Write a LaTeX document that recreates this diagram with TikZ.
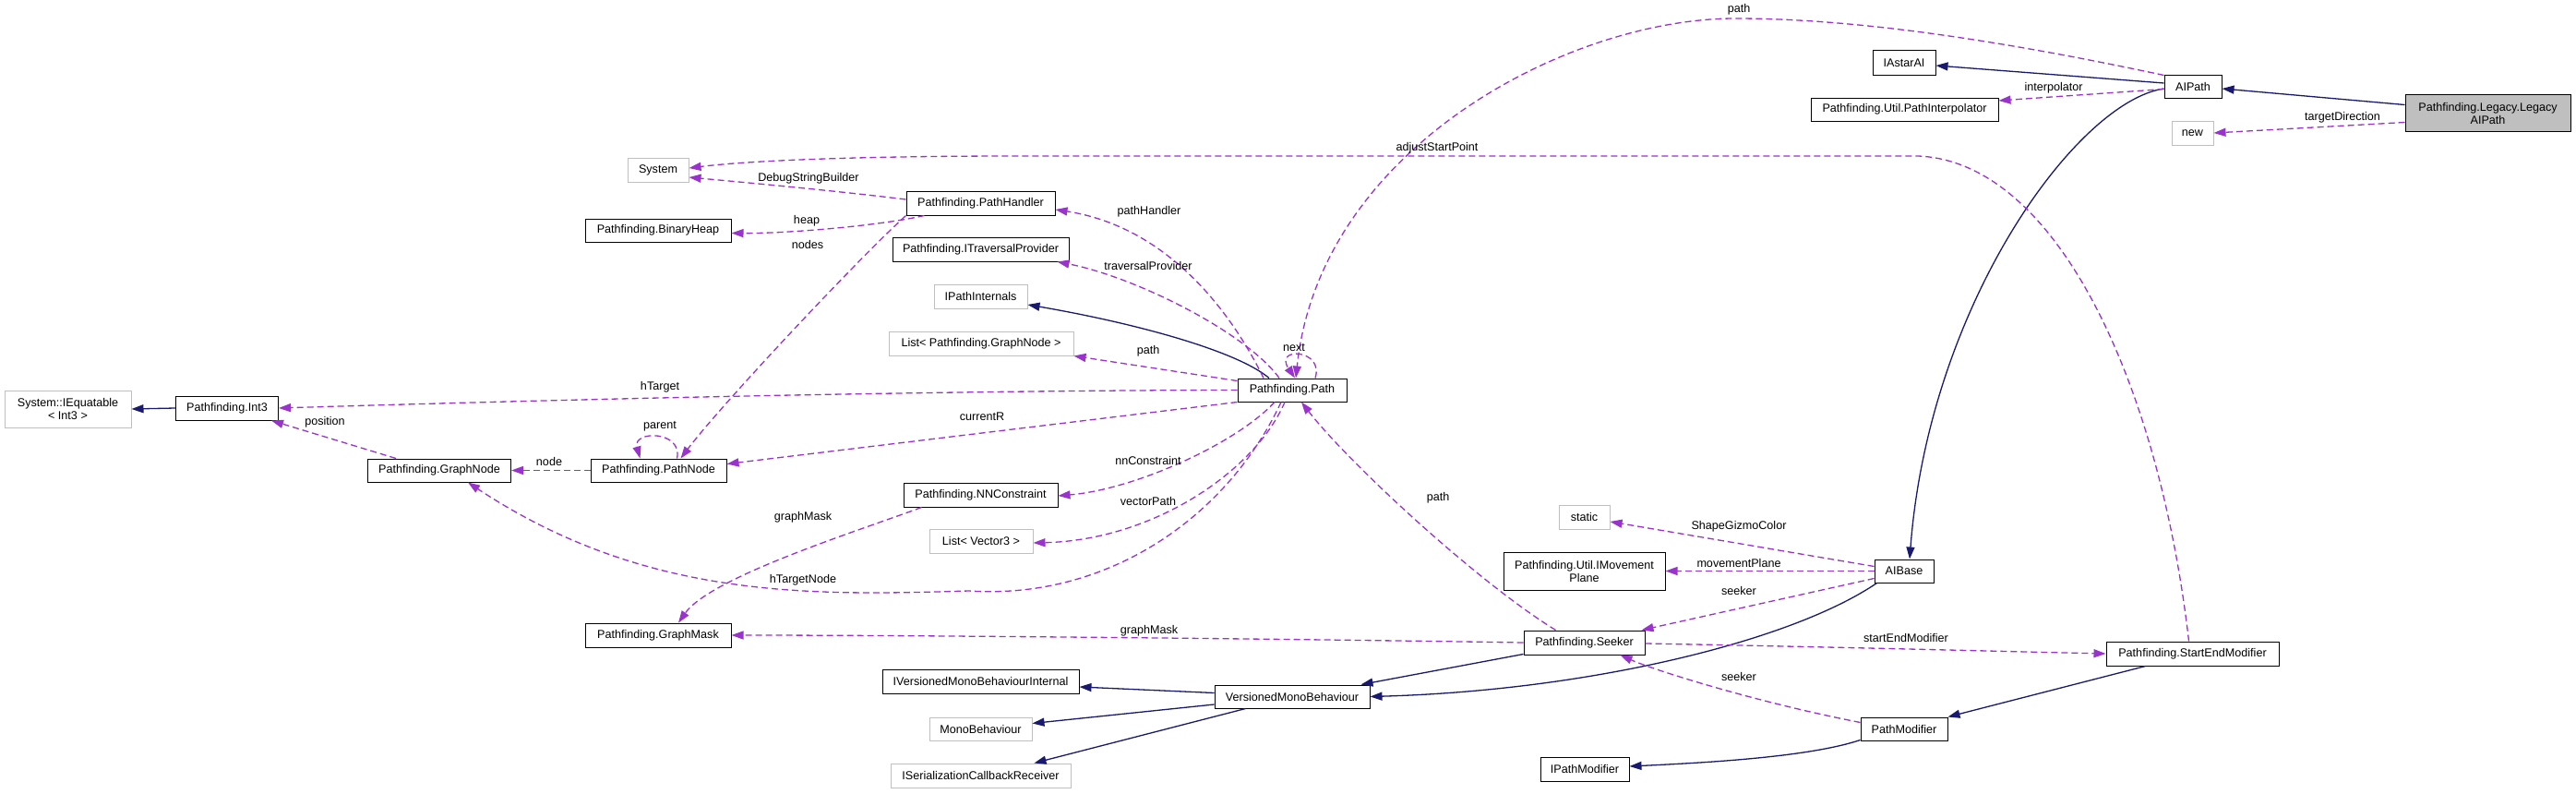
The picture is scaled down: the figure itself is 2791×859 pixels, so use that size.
\documentclass[tikz,border=0pt]{standalone}
\usepackage{fontspec}
\setmainfont{Liberation Sans}
\usetikzlibrary{arrows.meta,calc}
\definecolor{inhc}{HTML}{191970}
\definecolor{usec}{HTML}{9A32CD}
\definecolor{grayb}{HTML}{BFBFBF}
\begin{document}
\begin{tikzpicture}[x=1pt,y=-1pt,
  box/.style={draw=black, line width=1pt, inner sep=0pt, fill=white, font=\fontsize{12.6}{14}\selectfont, align=center},
  ext/.style={box, draw=grayb},
  mainbox/.style={box, fill=grayb},
  inh/.style={draw=inhc, line width=1.3pt, -{Triangle[length=13pt,width=9pt]}},
  use/.style={draw=usec, line width=1.3pt, dash pattern=on 7pt off 4pt, -{Triangle[length=13pt,width=9pt]}},
  lbl/.style={font=\fontsize{12.6}{14}\selectfont, inner sep=0pt, text=black},
]
\fill[white] (0,0) rectangle (2791,859);
\useasboundingbox (0,0) rectangle (2791,859);

% nodes
\node[mainbox, minimum width=179pt, minimum height=40pt] (legacy) at (2695.5,122.5) {Pathfinding.Legacy.Legacy\\AIPath};
\node[box, minimum width=62pt, minimum height=25pt] (aipath) at (2376,93.5) {AIPath};
\node[box, minimum width=68pt, minimum height=26pt] (iastar) at (2063,68) {IAstarAI};
\node[box, minimum width=203pt, minimum height=25pt] (interp) at (2063.5,118.5) {Pathfinding.Util.PathInterpolator};
\node[ext, minimum width=45pt, minimum height=26pt] (new) at (2375.5,144) {new};
\node[ext, minimum width=66pt, minimum height=26pt] (system) at (713,184) {System};
\node[box, minimum width=161pt, minimum height=26pt] (pathhandler) at (1062.5,220) {Pathfinding.PathHandler};
\node[box, minimum width=158pt, minimum height=25pt] (binaryheap) at (713,249.5) {Pathfinding.BinaryHeap};
\node[box, minimum width=191pt, minimum height=26pt] (itrav) at (1062.5,270) {Pathfinding.ITraversalProvider};
\node[ext, minimum width=101pt, minimum height=26pt] (ipathint) at (1062.5,321) {IPathInternals};
\node[ext, minimum width=200pt, minimum height=26pt] (listgn) at (1063,372) {List< Pathfinding.GraphNode >};
\node[box, minimum width=118pt, minimum height=25pt] (path) at (1400,422.5) {Pathfinding.Path};
\node[ext, minimum width=137pt, minimum height=40pt] (iequat) at (73.5,443) {System::IEquatable\\< Int3 >};
\node[box, minimum width=111pt, minimum height=26pt] (int3) at (246,442) {Pathfinding.Int3};
\node[box, minimum width=155pt, minimum height=25pt] (graphnode) at (476,509.5) {Pathfinding.GraphNode};
\node[box, minimum width=147pt, minimum height=25pt] (pathnode) at (713.5,509.5) {Pathfinding.PathNode};
\node[box, minimum width=167pt, minimum height=26pt] (nnc) at (1062.5,536) {Pathfinding.NNConstraint};
\node[ext, minimum width=112pt, minimum height=26pt] (listv3) at (1063,586) {List< Vector3 >};
\node[box, minimum width=158pt, minimum height=26pt] (graphmask) at (713,688) {Pathfinding.GraphMask};
\node[ext, minimum width=55pt, minimum height=26pt] (static) at (1716.5,560) {static};
\node[box, minimum width=175pt, minimum height=41pt] (imovement) at (1716.5,618.5) {Pathfinding.Util.IMovement\\Plane};
\node[box, minimum width=64pt, minimum height=25pt] (aibase) at (2063,618.5) {AIBase};
\node[box, minimum width=131pt, minimum height=26pt] (seeker) at (1716.5,696) {Pathfinding.Seeker};
\node[box, minimum width=187pt, minimum height=26pt] (startend) at (2375.5,708) {Pathfinding.StartEndModifier};
\node[box, minimum width=213pt, minimum height=26pt] (ivmbi) at (1062.5,738) {IVersionedMonoBehaviourInternal};
\node[box, minimum width=168pt, minimum height=25pt] (vmb) at (1400,754.5) {VersionedMonoBehaviour};
\node[ext, minimum width=111pt, minimum height=25pt] (monob) at (1062.5,789.5) {MonoBehaviour};
\node[ext, minimum width=195pt, minimum height=26pt] (iserial) at (1062.5,840) {ISerializationCallbackReceiver};
\node[box, minimum width=94pt, minimum height=25pt] (pathmod) at (2063,789.5) {PathModifier};
\node[box, minimum width=96pt, minimum height=26pt] (ipathmod) at (1717,833) {IPathModifier};

% inheritance (solid)
\draw[inh] ($(legacy.west)+(0,-9)$) -- ($(aipath.east)+(0,2.5)$);
\draw[inh] ($(aipath.west)+(0,-3.5)$) -- ($(iastar.east)+(0,3)$);
\draw[inh] ($(aipath.west)+(0,2.5)$) .. controls (2250,110) and (2090,330) .. ($(aibase.north)+(6,0)$);
\draw[inh] ($(path.north)+(-25,0)$) .. controls (1340,380) and (1230,350) .. ($(ipathint.east)+(0,9)$);
\draw[inh] (int3.west) -- (iequat.east);
\draw[inh] ($(seeker.south west)+(0,-1)$) -- ($(vmb.north east)+(-10,0)$);
\draw[inh] ($(aibase.south west)+(3,0)$) .. controls (1940,695) and (1720,748) .. (vmb.east);
\draw[inh] ($(vmb.west)+(0,-4)$) -- ($(ivmbi.east)+(0,6)$);
\draw[inh] ($(vmb.west)+(0,8.5)$) -- ($(monob.east)+(0,-6)$);
\draw[inh] ($(vmb.south west)+(34,0)$) -- ($(iserial.north east)+(-40,0)$);
\draw[inh] ($(startend.south west)+(43,0)$) -- (pathmod.north east);
\draw[inh] ($(pathmod.south west)+(0,-1)$) .. controls (1960,820) and (1850,826) .. ($(ipathmod.east)+(0,-3)$);

% usage (dashed)
\draw[use] ($(legacy.west)+(0,10)$) -- (new.east);
\node[lbl] (l1) at (2538,127) {targetDirection};
\draw[use] ($(aipath.west)+(0,3)$) -- ($(interp.east)+(0,-9.5)$);
\node[lbl] (l2) at (2225,95) {interpolator};
\draw[use] ($(aipath.north west)+(0,1)$) .. controls (2150,40) and (2000,20) .. (1880,20) .. controls (1700,20) and (1430,160) .. ($(path.north)+(4,0)$);
\node[lbl] (l3) at (1884,10) {path};
\draw[use] ($(startend.north)+(-4,0)$) .. controls (2340,420) and (2230,175) .. (2078,169) -- (1100,169) .. controls (950,169) and (820,173) .. ($(system.east)+(0,-2)$);
\node[lbl] (l4) at (1557,160) {adjustStartPoint};
\draw[use] ($(pathhandler.west)+(0,-4)$) .. controls (900,206) and (800,197) .. ($(system.east)+(0,8)$);
\node[lbl] (l5) at (876,193) {DebugStringBuilder};
\draw[use] ($(pathhandler.south west)+(20,0)$) .. controls (950,245) and (850,253) .. ($(binaryheap.east)+(0,3)$);
\node[lbl] (l6) at (874,239) {heap};
\draw[use] (pathhandler.south west) .. controls (930,280) and (780,440) .. ($(pathnode.north)+(24,0)$);
\node[lbl] (l7) at (875,265) {nodes};
\draw[use] ($(path.north)+(-31,0)$) .. controls (1330,330) and (1260,245) .. ($(pathhandler.east)+(0,7)$);
\node[lbl] (l8) at (1245,229) {pathHandler};
\draw[use] ($(path.north)+(-14,0)$) .. controls (1350,360) and (1230,300) .. ($(itrav.south east)+(-13,0)$);
\node[lbl] (l9) at (1244,288) {traversalProvider};
\draw[use] ($(path.north west)+(0,3)$) -- (listgn.south east);
\node[lbl] (l10) at (1244,380) {path};
\draw[use] ($(path.north)+(25,0)$) .. controls (1435,378) and (1380,375) .. ($(path.north)+(3,0)$);
\node[lbl] (l11) at (1402,376) {next};
\draw[use] (path.west) .. controls (1000,423) and (600,433) .. (int3.east);
\node[lbl] (l12) at (715,419) {hTarget};
\draw[use] (path.south west) -- ($(pathnode.east)+(0,-7)$);
\node[lbl] (l13) at (1064,451) {currentR};
\draw[use] ($(path.south)+(-19,0)$) .. controls (1340,480) and (1230,530) .. ($(nnc.east)+(0,1)$);
\node[lbl] (l14) at (1244,499) {nnConstraint};
\draw[use] ($(path.south)+(-8,0)$) .. controls (1360,510) and (1250,585) .. ($(listv3.east)+(0,2)$);
\node[lbl] (l15) at (1244,543) {vectorPath};
\draw[use] ($(path.south)+(-12,0)$) .. controls (1330,560) and (1200,650) .. (1050,640) .. controls (880,645) and (700,650) .. ($(graphnode.south)+(31,0)$);
\node[lbl] (l16) at (870,628) {hTargetNode};
\draw[use] ($(seeker.north)+(-31,0)$) .. controls (1600,630) and (1460,500) .. ($(path.south)+(10,0)$);
\node[lbl] (l17) at (1558,539) {path};
\draw[use] ($(nnc.south west)+(20,0)$) .. controls (930,575) and (770,625) .. ($(graphmask.north)+(22,0)$);
\node[lbl] (l18) at (870,560) {graphMask};
\draw[use] (pathnode.west) -- (graphnode.east);
\node[lbl] (l19) at (595,500) {node};
\draw[use] ($(pathnode.north)+(20,0)$) .. controls (740,466) and (685,466) .. ($(pathnode.north)+(-20,0)$);
\node[lbl] (l20) at (715,462) {parent};
\draw[use] ($(graphnode.north)+(-47,0)$) -- ($(int3.south east)+(-8,0)$);
\node[lbl] (l21) at (352,457) {position};
\draw[use] (seeker.west) .. controls (1400,692) and (1000,688) .. (graphmask.east);
\node[lbl] (l22) at (1245,683) {graphMask};
\draw[use] ($(seeker.east)+(0,1)$) .. controls (1950,700) and (2150,705) .. (startend.west);
\node[lbl] (l23) at (2065,691) {startEndModifier};
\draw[use] ($(aibase.north west)+(0,8)$) -- ($(static.east)+(0,5)$);
\node[lbl] (l24) at (1884,570) {ShapeGizmoColor};
\draw[use] (aibase.west) -- (imovement.east);
\node[lbl] (l25) at (1884,610) {movementPlane};
\draw[use] ($(aibase.west)+(0,8)$) -- ($(seeker.north east)+(-4,0)$);
\node[lbl] (l26) at (1884,640) {seeker};
\draw[use] ($(pathmod.west)+(0,-7)$) .. controls (1900,760) and (1790,725) .. ($(seeker.south east)+(-27,0)$);
\node[lbl] (l27) at (1884,733) {seeker};
\end{tikzpicture}
\end{document}
